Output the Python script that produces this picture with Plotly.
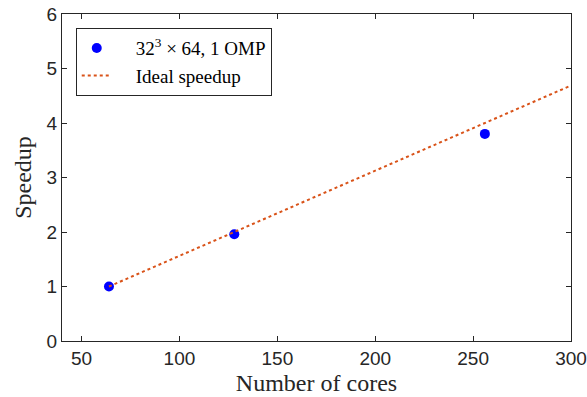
import plotly.graph_objects as go

cores = [64, 128, 256]
speedup = [1.0, 1.96, 3.8]
ideal_cores = [64, 300]
ideal_speedup = [1.0, 300 / 64]

x_ticks = [50, 100, 150, 200, 250, 300]
y_ticks = [0, 1, 2, 3, 4, 5, 6]

serif = "Liberation Serif, Times New Roman, serif"
sans = "Liberation Sans, Arial, sans-serif"
pad = "\u2002\u2002"

fig = go.Figure()
fig.add_trace(go.Scatter(
    x=cores, y=speedup, mode="markers",
    name=pad + "32<sup>3</sup> × 64, 1 OMP",
    marker=dict(color="#0000FF", size=10, line=dict(width=0)),
))
fig.add_trace(go.Scatter(
    x=ideal_cores, y=ideal_speedup, mode="lines",
    name=pad + "Ideal speedup",
    line=dict(color="#D95319", width=2, dash="dot"),
))

axis_common = dict(
    showgrid=False, zeroline=False, showline=True, linecolor="#262626",
    linewidth=1, mirror="ticks", ticks="inside", ticklen=5, tickcolor="#262626",
    tickfont=dict(family=sans, size=19, color="#262626"),
    automargin=False,
)

fig.update_layout(
    width=587, height=397,
    margin=dict(l=62, r=16, t=14, b=56),
    paper_bgcolor="white", plot_bgcolor="white",
    xaxis=dict(range=[40, 300], tickvals=x_ticks,
               title=dict(text="Number of cores", font=dict(family=serif, size=24, color="#262626"), standoff=6),
               **axis_common),
    yaxis=dict(range=[0, 6], tickvals=y_ticks,
               title=dict(text="Speedup", font=dict(family=serif, size=24, color="#262626"), standoff=8),
               **axis_common),
    legend=dict(x=0.027, y=0.957, xanchor="left", yanchor="top",
                bgcolor="white", bordercolor="#262626", borderwidth=1,
                font=dict(family=serif, size=19, color="#000000"),
                itemwidth=30, tracegroupgap=0),
    showlegend=True,
)

fig.write_html("out.html", config={"displayModeBar": False},
               post_script="document.body.style.margin='0';document.body.style.overflow='hidden';")
